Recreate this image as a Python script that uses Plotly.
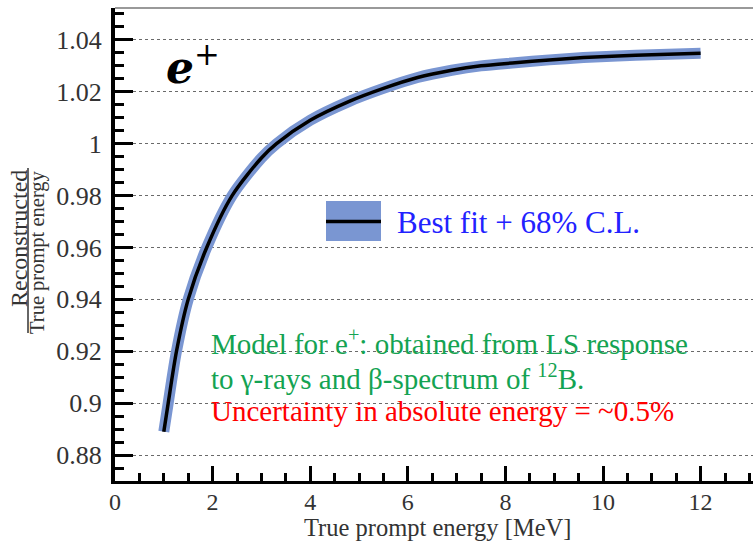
import plotly.graph_objects as go

# ---- data ----
energy = [1.0, 1.09, 1.26, 1.50, 1.88, 2.40, 3.0, 3.31, 4.0, 4.8, 5.5, 6.2, 6.9, 7.5, 8.2, 8.9, 9.6, 10.3, 11.0, 12.0]
ratio = [0.889, 0.900, 0.920, 0.940, 0.960, 0.980, 0.9945, 1.000, 1.009, 1.0163, 1.0213, 1.0255, 1.0283, 1.0300,
         1.0312, 1.0323, 1.0332, 1.0338, 1.0343, 1.0349]

x_ticks = [0, 2, 4, 6, 8, 10, 12]
y_ticks = [0.88, 0.90, 0.92, 0.94, 0.96, 0.98, 1.00, 1.02, 1.04]
y_ticklabels = ["0.88", "0.9", "0.92", "0.94", "0.96", "0.98", "1", "1.02", "1.04"]

W, H = 753, 543
L, R, T, B = 115, 753, 8, 481


def px(x):
    return (x - L) / (R - L)


def py(y):
    return (B - y) / (B - T)


SERIF = "Liberation Serif"
BAND = "rgb(122,150,210)"

fig = go.Figure()
# 68% C.L. band (drawn as a wide stroke around the best fit)
fig.add_trace(go.Scatter(x=energy, y=ratio, mode="lines",
                         line=dict(color=BAND, width=11, shape="spline", smoothing=0.8),
                         showlegend=False, hoverinfo="skip"))
fig.add_trace(go.Scatter(x=energy, y=ratio, mode="lines",
                         line=dict(color="black", width=3.5, shape="spline", smoothing=0.8),
                         showlegend=False))

fig.update_layout(
    width=W, height=H,
    margin=dict(l=L, r=W - R, t=T, b=H - B),
    paper_bgcolor="white", plot_bgcolor="white",
    font=dict(family=SERIF, color="#333333"),
    showlegend=False,
)

fig.update_xaxes(
    range=[0, (R - L) / 48.8], tickvals=x_ticks, ticktext=[str(v) for v in x_ticks],
    showgrid=False, zeroline=False,
    showline=True, linecolor="black", linewidth=3,
    ticks="inside", ticklen=15, tickwidth=3, tickcolor="black",
    minor=dict(ticks="inside", ticklen=8, tickwidth=3, tickcolor="black", dtick=0.5, tick0=0, showgrid=False),
    tickfont=dict(family=SERIF, size=24, color="#333333"),
    ticklabelstandoff=-3,
)
fig.update_yaxes(
    range=[0.87, 1.0523], tickvals=y_ticks, ticktext=y_ticklabels,
    showgrid=True, gridcolor="#6a6a6a", gridwidth=1, griddash="dot", zeroline=False,
    showline=True, linecolor="black", linewidth=4,
    ticks="inside", ticklen=18, tickwidth=3, tickcolor="black",
    minor=dict(ticks="inside", ticklen=9, tickwidth=3, tickcolor="black", dtick=0.005, tick0=0.87, showgrid=False),
    tickfont=dict(family=SERIF, size=26, color="#333333"),
    ticklabelstandoff=4,
)

shapes = [
    # top frame
    dict(type="line", xref="paper", yref="paper", x0=0, x1=1, y0=1, y1=1, line=dict(color="#999999", width=2)),
    # white boxes hiding the grid behind texts
    dict(type="rect", xref="paper", yref="paper", x0=px(147), x1=px(214), y0=py(100), y1=py(30),
         fillcolor="white", line=dict(width=0), layer="between"),
    dict(type="rect", xref="paper", yref="paper", x0=px(192), x1=px(718), y0=py(432), y1=py(318),
         fillcolor="white", line=dict(width=0), layer="between"),
    # legend symbol
    dict(type="rect", xref="paper", yref="paper", x0=px(326), x1=px(381), y0=py(241), y1=py(201),
         fillcolor=BAND, line=dict(width=0), layer="above"),
    dict(type="line", xref="paper", yref="paper", x0=px(326), x1=px(381), y0=py(221.5), y1=py(221.5),
         line=dict(color="black", width=3.5), layer="above"),
    # y-axis fraction bar
    dict(type="line", xref="paper", yref="paper", x0=px(28), x1=px(28), y0=py(333), y1=py(168),
         line=dict(color="#333333", width=1.5)),
]
fig.update_layout(shapes=shapes)

ann = []
ann.append(dict(text="<b><i>e</i></b><sup>+</sup>", x=px(164), y=py(64), xanchor="left", yanchor="middle",
                font=dict(family="DejaVu Serif", size=44, color="black")))
ann.append(dict(text="Best fit + 68% C.L.", x=px(395), y=py(222), xanchor="left", yanchor="middle",
                font=dict(family=SERIF, size=31, color="#2222ff")))
ann.append(dict(text="Model for e<sup>+</sup>: obtained from LS response", x=px(209), y=py(342),
                xanchor="left", yanchor="middle", font=dict(family=SERIF, size=29, color="#14a352")))
ann.append(dict(text="to \u03b3-rays and \u03b2-spectrum of <sup>12</sup>B.", x=px(209), y=py(377),
                xanchor="left", yanchor="middle", font=dict(family=SERIF, size=29, color="#14a352")))
ann.append(dict(text="Uncertainty in absolute energy = ~0.5%", x=px(209), y=py(411),
                xanchor="left", yanchor="middle", font=dict(family=SERIF, size=29, color="#ff0000")))
ann.append(dict(text="True prompt energy [MeV]", x=px(437), y=py(527.5), xanchor="center", yanchor="middle",
                font=dict(family=SERIF, size=24.5, color="#333333")))
ann.append(dict(text="Reconstructed", x=px(19), y=py(239), xanchor="center", yanchor="middle", textangle=-90,
                font=dict(family=SERIF, size=24, color="#333333")))
ann.append(dict(text="True prompt energy", x=px(37), y=py(252), xanchor="center", yanchor="middle", textangle=-90,
                font=dict(family=SERIF, size=20.5, color="#333333")))
for a in ann:
    a.update(xref="paper", yref="paper", showarrow=False)
fig.update_layout(annotations=ann)

fig.write_html("out.html")
